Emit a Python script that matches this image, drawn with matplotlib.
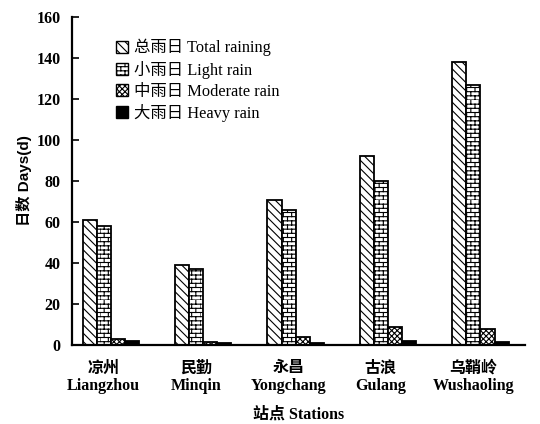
# -*- coding: utf-8 -*-
# 各站点降雨日数柱状图
import numpy as np
import matplotlib
matplotlib.use('Agg')
import matplotlib.pyplot as plt
from matplotlib.patches import Patch
from matplotlib.path import Path
from matplotlib import hatch as mhatch

plt.rcParams['font.family'] = ['Liberation Serif', 'Noto Sans CJK SC']
plt.rcParams['hatch.linewidth'] = 0.8


# 砖墙纹理 (字符 'b')
class BrickHatch(mhatch.HatchPatternBase):
    def __init__(self, hatch, density):
        self.num_rows = int(hatch.count('b') * density)
        self.num_cols = max(self.num_rows // 2, 1)
        if self.num_rows:
            self.num_vertices = 2 * self.num_rows * (1 + self.num_cols)
        else:
            self.num_vertices = 0

    def set_vertices_and_codes(self, vertices, codes):
        n, m = self.num_rows, self.num_cols
        pts = []
        for i in range(n):
            y0, y1 = i / n, (i + 1) / n
            pts += [(0, y0), (1, y0)]
            off = 0.5 / m if i % 2 else 0.0
            for j in range(m):
                xv = j / m + off
                pts += [(xv, y0), (xv, y1)]
        vertices[:] = np.array(pts)
        codes[0::2] = Path.MOVETO
        codes[1::2] = Path.LINETO


mhatch._hatch_types.append(BrickHatch)

stations = ['凉州\nLiangzhou', '民勤\nMinqin', '永昌\nYongchang', '古浪\nGulang', '乌鞘岭\nWushaoling']
total_days = [61, 39, 71, 92, 138]
light_days = [58, 37, 66, 80, 127]
moderate_days = [3, 1.5, 4, 9, 8]
heavy_days = [2, 1, 1, 2, 1.5]

series_names = ['总雨日 Total raining', '小雨日 Light rain', '中雨日 Moderate rain', '大雨日 Heavy rain']
hatches = ['\\\\\\\\', 'bbbb', 'xxxxxx', '']
faces = ['white', 'white', 'white', 'black']

fig = plt.figure(figsize=(5.4, 4.24), dpi=100)
ax = fig.add_axes([0.133, 0.186, 0.839, 0.774])

x = np.arange(len(stations))
w = 0.152
for k, vals in enumerate([total_days, light_days, moderate_days, heavy_days]):
    ax.bar(x + (k - 1.5) * w, vals, w, facecolor=faces[k], edgecolor='black',
           hatch=hatches[k], linewidth=1.3)

ax.set_xlim(-0.42, 4.48)
ax.set_ylim(0, 160)
ax.set_yticks(range(0, 161, 20))
ax.tick_params(axis='y', direction='in', length=5, width=1.2, labelsize=11.5, pad=8)
ax.set_xticks(x - 0.08)
ax.set_xticklabels(stations, fontsize=11.5, fontweight='bold', linespacing=1.15)
ax.tick_params(axis='x', length=0, pad=11)
for lab in ax.get_yticklabels():
    lab.set_fontweight('bold')

for s in ['top', 'right']:
    ax.spines[s].set_visible(False)
ax.spines['left'].set_linewidth(1.6)
ax.spines['bottom'].set_linewidth(1.6)

ax.set_ylabel('日数 Days(d)', fontsize=11, fontweight='bold',
              family=['Liberation Sans', 'Noto Sans CJK SC'], labelpad=3)
ax.set_xlabel('站点 Stations', fontsize=11.5, fontweight='bold', labelpad=9)

handles = [Patch(facecolor=faces[k], edgecolor='black', hatch=hatches[k], linewidth=1)
           for k in range(4)]
ax.legend(handles, series_names, loc='upper left', bbox_to_anchor=(0.066, 0.978),
          frameon=False, fontsize=11.8, handlelength=0.7, handleheight=0.75,
          handletextpad=0.4, labelspacing=0.28)

fig.savefig('out.png', dpi=100)
